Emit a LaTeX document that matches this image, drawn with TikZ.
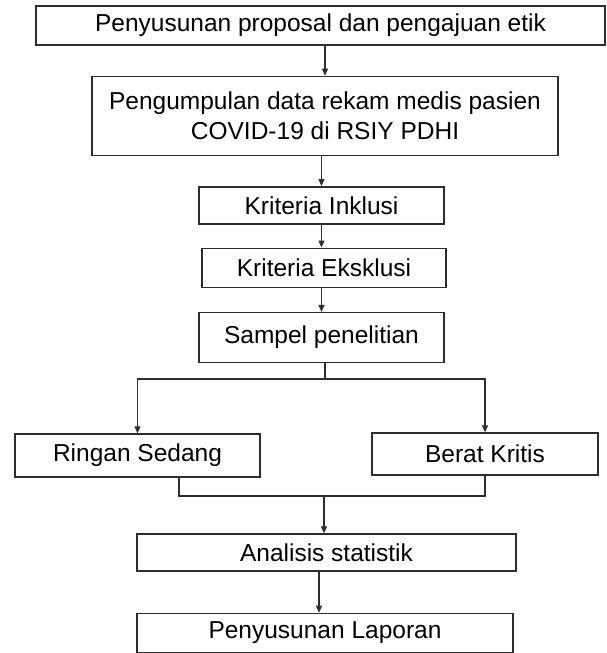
\documentclass[tikz,border=0pt]{standalone}
\usepackage{fontspec}
\setmainfont{Liberation Sans}
\usetikzlibrary{arrows.meta, positioning}
\definecolor{flowLine}{RGB}{45, 45, 45}

\begin{document}
\begin{tikzpicture}[
                x=1pt, y=1pt,
                node distance=30pt,
                box/.style={rectangle, draw=flowLine, line width=1.4pt, fill=white, inner sep=0pt, minimum height=38pt, align=center, font=\fontsize{24.5}{29.5}\selectfont},
                arrow/.style={-{Triangle[length=7pt, width=6pt]}, line width=1.1pt, flowLine},
                link/.style={line width=1.1pt, flowLine}
            ]
                \useasboundingbox (0,0) rectangle (607,-653);

                \node[box, minimum width=569pt, minimum height=39pt] (proposal) at (320.5,-25.5) {Penyusunan proposal dan pengajuan etik};
                \node[box, minimum width=466pt, minimum height=79pt, below=30pt of proposal, xshift=4.5pt] (rekam) {Pengumpulan data rekam medis pasien\\COVID-19 di RSIY PDHI};
                \node[box, minimum width=245pt, minimum height=37pt, below=30pt of rekam, xshift=-3.5pt] (inklusi) {Kriteria Inklusi};
                \node[box, minimum width=244pt, minimum height=39pt, below=23pt of inklusi, xshift=2.5pt] (eksklusi) {Kriteria Eksklusi};
                \node[box, minimum width=245pt, minimum height=50pt, below=24pt of eksklusi, xshift=-2.5pt] (sampel) {Sampel penelitian};

                \node[box, minimum width=245pt, minimum height=43pt] (ringan) at (137.5,-455.5) {Ringan Sedang};
                \node[box, minimum width=226pt, minimum height=42pt] (berat) at (485,-454) {Berat Kritis};

                \node[box, minimum width=379pt, minimum height=37pt] (analisis) at (326.5,-552.5) {Analisis statistik};
                \node[box, minimum width=376pt, minimum height=39pt, below=41pt of analisis, xshift=-1.5pt] (laporan) {Penyusunan Laporan};

                \coordinate (split) at (325,-379);
                \coordinate (merge) at (324,-496);

                \draw[arrow] (rekam.north |- proposal.south) -- (rekam.north);
                \draw[arrow] (inklusi.north |- rekam.south) -- (inklusi.north);
                \draw[arrow] (inklusi.south) -- (inklusi.south |- eksklusi.north);
                \draw[arrow] (sampel.north |- eksklusi.south) -- (sampel.north);

                \draw[link] (split |- sampel.south) -- (split);
                \draw[arrow] (split) -| (ringan.north);
                \draw[arrow] (split) -| (berat.north);

                \draw[link] ([xshift=41.5pt]ringan.south) |- (merge) -| (berat.south);
                \draw[arrow] (merge) -- (merge |- analisis.north);
                \draw[arrow] ([xshift=-7.5pt]analisis.south) -- ([xshift=-6pt]laporan.north);
            \end{tikzpicture}
\end{document}
